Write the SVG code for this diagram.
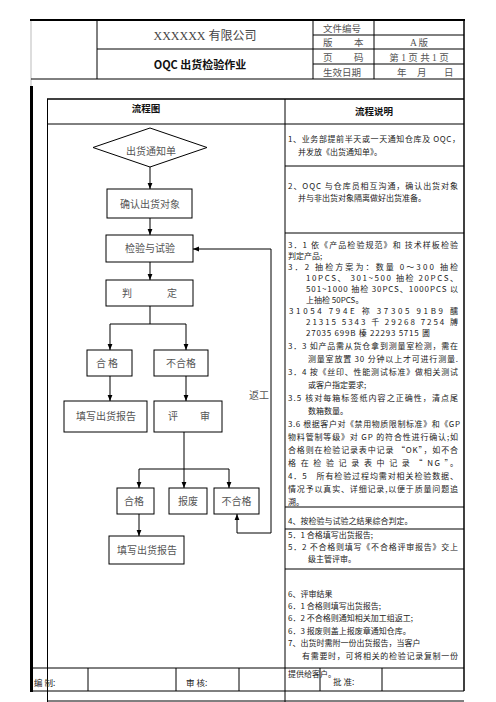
<svg xmlns="http://www.w3.org/2000/svg" width="496" height="702" viewBox="0 0 496 702">
<defs>
<marker id="ah" viewBox="0 0 10 10" refX="10" refY="5" markerWidth="6" markerHeight="6" markerUnits="userSpaceOnUse" orient="auto">
<path d="M0,1 L10,5 L0,9 z" fill="#000"/>
</marker>
<style>
.ln{stroke:#000;stroke-width:1;fill:none}
.bx{fill:#fff;stroke:#000;stroke-width:1}
.ar{stroke:#000;stroke-width:1;fill:none;marker-end:url(#ah)}
.ft{font-family:"Noto Sans CJK SC",sans-serif;font-size:10px;fill:#555;text-anchor:middle}
.rt{font-family:"Noto Sans CJK SC",sans-serif;font-size:8px;fill:#222}
.hd{font-family:"Liberation Serif","Noto Sans CJK SC",serif;font-size:9.5px;fill:#555}
.bt{font-family:"Noto Sans CJK SC",sans-serif;font-weight:bold;fill:#111;text-anchor:middle}
</style>
</defs>
<rect width="496" height="702" fill="#fff"/>

<g id="header">
<line class="ln" x1="31" y1="20" x2="31" y2="86" style="stroke:#bbb"/>
<line class="ln" x1="30" y1="20" x2="465" y2="20" style="stroke-width:2"/>
<line class="ln" x1="31" y1="79" x2="464" y2="79"/>
<line class="ln" x1="97" y1="49" x2="313" y2="49"/>
<line class="ln" x1="313" y1="35" x2="464" y2="35"/>
<line class="ln" x1="313" y1="49" x2="464" y2="49"/>
<line class="ln" x1="313" y1="64" x2="464" y2="64"/>
<line class="ln" x1="97" y1="20" x2="97" y2="79"/>
<line class="ln" x1="313" y1="20" x2="313" y2="79"/>
<line class="ln" x1="374" y1="20" x2="374" y2="79"/>
<line class="ln" x1="464" y1="20" x2="464" y2="99" style="stroke-width:1.5"/>
<text x="205" y="39.5" text-anchor="middle" style="font-family:'Liberation Serif','Noto Sans CJK SC',serif;font-size:12px;fill:#444">XXXXXX 有限公司</text>
<text x="200" y="68.5" class="bt" style="font-size:11px">OQC 出货检验作业</text>
<text x="323" y="31.5" class="hd">文件编号</text>
<text x="323" y="45.5" class="hd">版</text><text x="354" y="45.5" class="hd">本</text>
<text x="323" y="60.5" class="hd">页</text><text x="354" y="60.5" class="hd">码</text>
<text x="323" y="75.5" class="hd">生效日期</text>
<text x="419" y="45.5" class="hd" text-anchor="middle">A 版</text>
<text x="419" y="60.5" class="hd" text-anchor="middle">第 1 页 共 1 页</text>
<text x="397" y="75.5" class="hd">年</text><text x="417" y="75.5" class="hd">月</text><text x="444" y="75.5" class="hd">日</text>
</g>

<g id="table">
<line class="ln" x1="47" y1="99" x2="464" y2="99" style="stroke-width:1.5"/>
<line class="ln" x1="31.5" y1="86" x2="31.5" y2="692" style="stroke-width:3"/>
<line class="ln" x1="47.5" y1="99" x2="47.5" y2="702"/>
<line class="ln" x1="285" y1="99" x2="285" y2="702"/>
<line class="ln" x1="464" y1="99" x2="464" y2="691" style="stroke-width:1.5"/>
<line class="ln" x1="47" y1="124" x2="464" y2="124"/>
<line class="ln" x1="285" y1="166" x2="464" y2="166"/>
<line class="ln" x1="285" y1="233" x2="464" y2="233"/>
<line class="ln" x1="285" y1="507" x2="464" y2="507"/>
<line class="ln" x1="285" y1="529" x2="464" y2="529"/>
<line class="ln" x1="285" y1="569" x2="464" y2="569"/>
<line class="ln" x1="31" y1="668" x2="464" y2="668"/>
<line class="ln" x1="31" y1="691" x2="464" y2="691"/>
<line class="ln" x1="47" y1="701" x2="464" y2="701"/>
<line class="ln" x1="88" y1="668" x2="88" y2="691"/>
<line class="ln" x1="176" y1="668" x2="176" y2="691"/>
<line class="ln" x1="239" y1="668" x2="239" y2="691"/>
<line class="ln" x1="320" y1="668" x2="320" y2="691"/>
<line class="ln" x1="382" y1="668" x2="382" y2="691"/>
<text x="146" y="112" class="bt" style="font-size:9.5px">流程图</text>
<text x="374" y="115" class="bt" style="font-size:9.5px">流程说明</text>
<text x="34" y="686" class="rt" style="font-size:8.5px">编 制:</text>
<text x="186" y="686" class="rt" style="font-size:8.5px">审 核:</text>
<text x="333" y="685" class="rt" style="font-size:8.5px">批 准:</text>
</g>

<g id="notes">
<text class="rt" x="288" y="142" textLength="172">1、业务部提前半天或一天通知仓库及 OQC，</text>
<text class="rt" x="298" y="155">并发放《出货通知单》。</text>
<text class="rt" x="288" y="189" textLength="170">2、OQC 与仓库员相互沟通，确认出货对象</text>
<text class="rt" x="298" y="201">并与非出货对象隔离做好出货准备。</text>
<text class="rt" x="288" y="248" textLength="170">3．1 依《产品检验规范》和 技术样板检验</text>
<text class="rt" x="288" y="259">判定产品;</text>
<text class="rt" x="288" y="270" textLength="170">3．2 抽检方案为：数量 0～300 抽检</text>
<text class="rt" x="306" y="281" textLength="152">10PCS、 301~500 抽检 20PCS、</text>
<text class="rt" x="306" y="292" textLength="152">501~1000 抽检 30PCS、1000PCS 以</text>
<text class="rt" x="306" y="303">上抽检 50PCS。</text>
<text class="rt" x="289" y="314" textLength="169">31054 794E 祢 37305 91B9 醹</text>
<text class="rt" x="306" y="325" textLength="152">21315 5343 千 29268 7254 牔</text>
<text class="rt" x="306" y="336" textLength="124">27035 699B 榛 22293 5715 圕</text>
<text class="rt" x="288" y="349" textLength="170">3．3 如产品需从货仓拿到测量室检测，需在</text>
<text class="rt" x="308" y="362" textLength="150">测量室放置 30 分钟以上才可进行测量.</text>
<text class="rt" x="288" y="375" textLength="170">3．4 按《丝印、性能测试标准》做相关测试</text>
<text class="rt" x="308" y="388">或客户指定要求;</text>
<text class="rt" x="288" y="401" textLength="170">3.5 核对每箱标签纸内容之正确性，清点尾</text>
<text class="rt" x="308" y="414">数箱数量。</text>
<text class="rt" x="288" y="427" textLength="172">3.6 根据客户对《禁用物质限制标准》和《GP</text>
<text class="rt" x="288" y="440" textLength="170">物料管制等级》对 GP 的符合性进行确认;如</text>
<text class="rt" x="288" y="453" textLength="170">合格则在检验记录表中记录 “OK”，如不合</text>
<text class="rt" x="288" y="466" textLength="170">格 在 检 验 记 录 表 中 记 录 “ NG ”。</text>
<text class="rt" x="288" y="479" textLength="170">4．5　所有检验过程均需对相关检验数据、</text>
<text class="rt" x="288" y="492" textLength="170">情况予以真实、详细记录,以便于质量问题追</text>
<text class="rt" x="288" y="505">溯。</text>
<text class="rt" x="288" y="524">4、按检验与试验之结果综合判定。</text>
<text class="rt" x="288" y="538">5．1 合格填写出货报告;</text>
<text class="rt" x="288" y="550" textLength="170">5．2 不合格则填写《不合格评审报告》交上</text>
<text class="rt" x="308" y="562">级主管评审。</text>
<text class="rt" x="288" y="597">6、评审结果</text>
<text class="rt" x="288" y="609">6．1 合格则填写出货报告;</text>
<text class="rt" x="288" y="621">6．2 不合格则通知相关加工组返工;</text>
<text class="rt" x="288" y="634">6．3 报废则盖上报废章通知仓库。</text>
<text class="rt" x="288" y="646">7、出货时需附一份出货报告，当客户</text>
<text class="rt" x="302" y="659" textLength="156">有需要时，可将相关的检验记录复制一份</text>
<text class="rt" x="288" y="677">提供给客户。</text>
</g>

<g id="connectors">
<line class="ar" x1="150" y1="167" x2="150" y2="189"/>
<line class="ar" x1="150" y1="218" x2="150" y2="235"/>
<line class="ar" x1="150" y1="262" x2="150" y2="280"/>
<polyline class="ln" points="150,306 150,324"/>
<polyline class="ln" points="110,324 186,324"/>
<line class="ar" x1="110" y1="324" x2="110" y2="350"/>
<line class="ar" x1="186" y1="324" x2="186" y2="350"/>
<line class="ar" x1="110" y1="376" x2="110" y2="401"/>
<line class="ar" x1="186" y1="376" x2="186" y2="401"/>
<polyline class="ln" points="184,432 184,469"/>
<polyline class="ln" points="139,469 229,469"/>
<line class="ar" x1="139" y1="469" x2="139" y2="488"/>
<line class="ar" x1="184" y1="469" x2="184" y2="488"/>
<line class="ar" x1="229" y1="469" x2="229" y2="488"/>
<line class="ar" x1="139" y1="514" x2="139" y2="536"/>
<line class="ar" x1="237" y1="533" x2="237" y2="514"/>
<polyline class="ar" points="237,533 271,533 271,249 193,249"/>
<text x="259" y="398.5" class="ft">返工</text>
</g>

<g id="n-notice"><polygon class="bx" points="93,147.5 150,128 207,147.5 150,167"/><text x="151" y="155" class="ft">出货通知单</text></g>
<g id="n-confirm"><rect class="bx" x="107" y="189" width="85" height="29"/><text x="150" y="207.5" class="ft">确认出货对象</text></g>
<g id="n-inspect"><rect class="bx" x="106" y="235" width="87" height="27"/><text x="150" y="252" class="ft">检验与试验</text></g>
<g id="n-judge"><rect class="bx" x="106" y="280" width="87" height="26"/><text x="127" y="296.5" class="ft">判</text><text x="172" y="296.5" class="ft">定</text></g>
<g id="n-pass1"><rect class="bx" x="87" y="350" width="45" height="26"/><text x="107" y="366.5" class="ft">合 格</text></g>
<g id="n-fail1"><rect class="bx" x="154" y="350" width="54" height="26"/><text x="181" y="366.5" class="ft">不合格</text></g>
<g id="n-report1"><rect class="bx" x="64" y="401" width="83" height="31"/><text x="106" y="420" class="ft">填写出货报告</text></g>
<g id="n-review"><rect class="bx" x="154" y="401" width="68" height="31"/><text x="173" y="420" class="ft">评</text><text x="205" y="420" class="ft">审</text></g>
<g id="n-pass2"><rect class="bx" x="117" y="488" width="37" height="26"/><text x="134" y="504.5" class="ft">合格</text></g>
<g id="n-scrap"><rect class="bx" x="169" y="488" width="38" height="26"/><text x="188" y="504.5" class="ft">报废</text></g>
<g id="n-fail2"><rect class="bx" x="214" y="488" width="45" height="26"/><text x="236.5" y="504.5" class="ft">不合格</text></g>
<g id="n-report2"><rect class="bx" x="109" y="536" width="75" height="28"/><text x="147" y="553.5" class="ft">填写出货报告</text></g>
</svg>
